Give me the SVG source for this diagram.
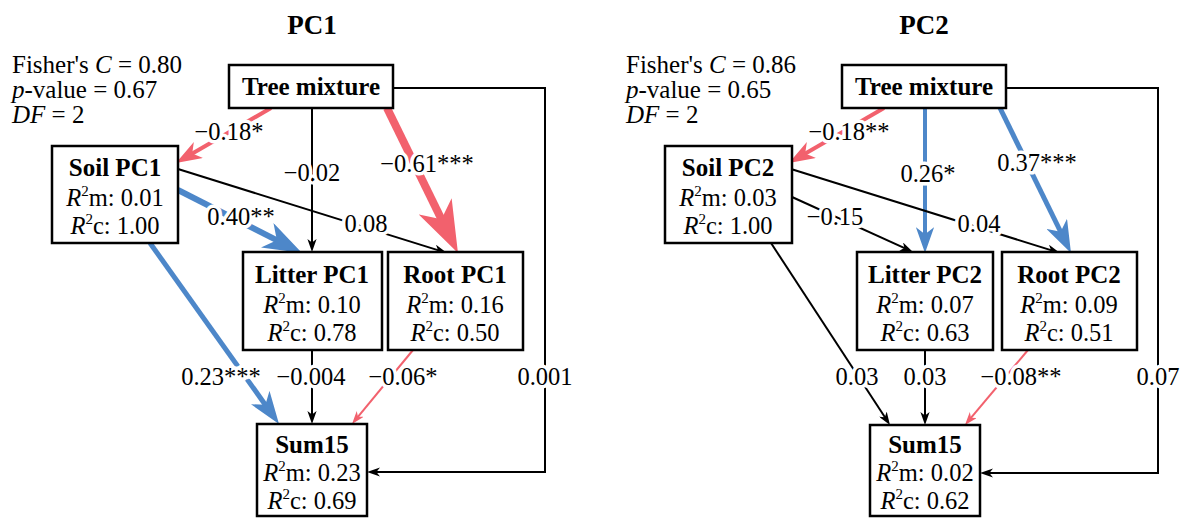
<svg xmlns="http://www.w3.org/2000/svg" width="1186" height="525" viewBox="0 0 1186 525" font-family="Liberation Serif, Tinos, DejaVu Serif, Noto Serif, serif">
<style>
text{font-family:"Liberation Serif",Tinos,"DejaVu Serif","Noto Serif",serif;fill:#000}
.title{font-size:27px;font-weight:bold;text-anchor:middle}
.stat{font-size:25px}
.box{fill:#fff;stroke:#000;stroke-width:2.5}
.nt{font-size:25px;font-weight:bold;text-anchor:middle}
.nr{font-size:24.5px;text-anchor:middle}
.lab{font-size:24.5px;text-anchor:middle;paint-order:stroke;stroke:#fff;stroke-width:7px;stroke-linejoin:round}
.k{fill:none;stroke:#000;stroke-width:2;marker-end:url(#ak)}
.r{fill:none;stroke:#f2616d;marker-end:url(#ar)}
.b{fill:none;stroke:#4d87c9;marker-end:url(#ab)}
</style>
<defs>
<marker id="ak" viewBox="0 -2.3 6.5 4.6" markerWidth="6.5" markerHeight="4.6" refX="2.5" refY="0" orient="auto"><path d="M6.5,0 L0,-2.3 L1.8,0 L0,2.3 Z" fill="#000"/></marker>
<marker id="ar" viewBox="0 -2.3 6.5 4.6" markerWidth="6.5" markerHeight="4.6" refX="2.5" refY="0" orient="auto"><path d="M6.5,0 L0,-2.3 L1.8,0 L0,2.3 Z" fill="#f2616d"/></marker>
<marker id="ab" viewBox="0 -2.3 6.5 4.6" markerWidth="6.5" markerHeight="4.6" refX="2.5" refY="0" orient="auto"><path d="M6.5,0 L0,-2.3 L1.8,0 L0,2.3 Z" fill="#4d87c9"/></marker>
</defs>
<rect width="1186" height="525" fill="#fff"/>

<text class="title" x="312" y="34">PC1</text>
<text class="title" x="924" y="34">PC2</text>
<g id="fit1" class="stat">
<text x="12" y="73">Fisher's <tspan font-style="italic">C</tspan> = 0.80</text>
<text x="12" y="98"><tspan font-style="italic">p</tspan>-value = 0.67</text>
<text x="12" y="123"><tspan font-style="italic">DF</tspan> = 2</text>
</g>
<g id="fit2" class="stat">
<text x="626" y="73">Fisher's <tspan font-style="italic">C</tspan> = 0.86</text>
<text x="626" y="98"><tspan font-style="italic">p</tspan>-value = 0.65</text>
<text x="626" y="123"><tspan font-style="italic">DF</tspan> = 2</text>
</g>

<g id="connectors">
<!-- PC1 -->
<line class="r" style="stroke-width:4" x1="271" y1="108" x2="189.8" y2="155"/>
<line class="k" x1="312" y1="108" x2="312" y2="244"/>
<line class="r" style="stroke-width:8" x1="387" y1="108" x2="443.9" y2="224.3"/>
<line class="b" style="stroke-width:6" x1="178" y1="190" x2="280.6" y2="242.1"/>
<line class="k" x1="178" y1="169" x2="439.4" y2="250.6"/>
<line class="b" style="stroke-width:5" x1="150" y1="243" x2="267.4" y2="407.7"/>
<line class="k" x1="312" y1="350" x2="312" y2="416"/>
<line class="r" style="stroke-width:2" x1="413" y1="350" x2="357.1" y2="417.8"/>
<path class="k" d="M393,88 H545 V472 H375"/>
<!-- PC2 -->
<line class="r" style="stroke-width:4" x1="884" y1="108" x2="802.8" y2="155"/>
<line class="b" style="stroke-width:4" x1="925" y1="108" x2="925" y2="237"/>
<line class="b" style="stroke-width:5" x1="1000" y1="108" x2="1062.2" y2="235"/>
<line class="k" x1="792" y1="197" x2="905.7" y2="248.7"/>
<line class="k" x1="791" y1="169" x2="1052.4" y2="250.6"/>
<line class="k" x1="771" y1="243" x2="885.6" y2="418.3"/>
<line class="k" x1="925" y1="350" x2="925" y2="417"/>
<line class="r" style="stroke-width:2" x1="1028" y1="350" x2="970.1" y2="418.9"/>
<path class="k" d="M1006,88 H1158 V473 H988"/>
<!-- labels -->
<text class="lab" x="229" y="140">−0.18*</text>
<text class="lab" x="312" y="181">−0.02</text>
<text class="lab" x="427" y="172">−0.61***</text>
<text class="lab" x="241" y="225">0.40**</text>
<text class="lab" x="366" y="232">0.08</text>
<text class="lab" x="221" y="385">0.23***</text>
<text class="lab" x="311" y="385">−0.004</text>
<text class="lab" x="403" y="385">−0.06*</text>
<text class="lab" x="545" y="385">0.001</text>
<text class="lab" x="849" y="140">−0.18**</text>
<text class="lab" x="928" y="182">0.26*</text>
<text class="lab" x="1037" y="171">0.37***</text>
<text class="lab" x="835" y="225">−0.15</text>
<text class="lab" x="979" y="232">0.04</text>
<text class="lab" x="857" y="385">0.03</text>
<text class="lab" x="925" y="385">0.03</text>
<text class="lab" x="1021" y="385">−0.08**</text>
<text class="lab" x="1158" y="385">0.07</text>
</g>

<!-- PC1 nodes -->
<g id="tree1"><rect class="box" x="229" y="65" width="164" height="43"/><text class="nt" x="311" y="95">Tree mixture</text></g>
<g id="soil1"><rect class="box" x="52" y="146" width="126" height="97"/><text class="nt" x="115" y="176">Soil PC1</text>
<text class="nr" x="115" y="206"><tspan font-style="italic">R</tspan><tspan font-size="15" dy="-10">2</tspan><tspan dy="10">m: 0.01</tspan></text>
<text class="nr" x="115" y="234"><tspan font-style="italic">R</tspan><tspan font-size="15" dy="-10">2</tspan><tspan dy="10">c: 1.00</tspan></text></g>
<g id="litter1"><rect class="box" x="243" y="252" width="139" height="98"/><text class="nt" x="312" y="283">Litter PC1</text>
<text class="nr" x="312" y="313"><tspan font-style="italic">R</tspan><tspan font-size="15" dy="-10">2</tspan><tspan dy="10">m: 0.10</tspan></text>
<text class="nr" x="312" y="341"><tspan font-style="italic">R</tspan><tspan font-size="15" dy="-10">2</tspan><tspan dy="10">c: 0.78</tspan></text></g>
<g id="root1"><rect class="box" x="388" y="252" width="135" height="98"/><text class="nt" x="455" y="283">Root PC1</text>
<text class="nr" x="455" y="313"><tspan font-style="italic">R</tspan><tspan font-size="15" dy="-10">2</tspan><tspan dy="10">m: 0.16</tspan></text>
<text class="nr" x="455" y="341"><tspan font-style="italic">R</tspan><tspan font-size="15" dy="-10">2</tspan><tspan dy="10">c: 0.50</tspan></text></g>
<g id="sum1"><rect class="box" x="257" y="424" width="110" height="92"/><text class="nt" x="312" y="453">Sum15</text>
<text class="nr" x="312" y="481"><tspan font-style="italic">R</tspan><tspan font-size="15" dy="-10">2</tspan><tspan dy="10">m: 0.23</tspan></text>
<text class="nr" x="312" y="509"><tspan font-style="italic">R</tspan><tspan font-size="15" dy="-10">2</tspan><tspan dy="10">c: 0.69</tspan></text></g>

<!-- PC2 nodes -->
<g id="tree2"><rect class="box" x="842" y="65" width="164" height="43"/><text class="nt" x="924" y="95">Tree mixture</text></g>
<g id="soil2"><rect class="box" x="665" y="146" width="127" height="97"/><text class="nt" x="728" y="176">Soil PC2</text>
<text class="nr" x="728" y="206"><tspan font-style="italic">R</tspan><tspan font-size="15" dy="-10">2</tspan><tspan dy="10">m: 0.03</tspan></text>
<text class="nr" x="728" y="234"><tspan font-style="italic">R</tspan><tspan font-size="15" dy="-10">2</tspan><tspan dy="10">c: 1.00</tspan></text></g>
<g id="litter2"><rect class="box" x="857" y="252" width="136" height="98"/><text class="nt" x="925" y="283">Litter PC2</text>
<text class="nr" x="925" y="313"><tspan font-style="italic">R</tspan><tspan font-size="15" dy="-10">2</tspan><tspan dy="10">m: 0.07</tspan></text>
<text class="nr" x="925" y="341"><tspan font-style="italic">R</tspan><tspan font-size="15" dy="-10">2</tspan><tspan dy="10">c: 0.63</tspan></text></g>
<g id="root2"><rect class="box" x="1002" y="252" width="135" height="98"/><text class="nt" x="1069" y="283">Root PC2</text>
<text class="nr" x="1069" y="313"><tspan font-style="italic">R</tspan><tspan font-size="15" dy="-10">2</tspan><tspan dy="10">m: 0.09</tspan></text>
<text class="nr" x="1069" y="341"><tspan font-style="italic">R</tspan><tspan font-size="15" dy="-10">2</tspan><tspan dy="10">c: 0.51</tspan></text></g>
<g id="sum2"><rect class="box" x="870" y="425" width="110" height="91"/><text class="nt" x="925" y="453">Sum15</text>
<text class="nr" x="925" y="481"><tspan font-style="italic">R</tspan><tspan font-size="15" dy="-10">2</tspan><tspan dy="10">m: 0.02</tspan></text>
<text class="nr" x="925" y="509"><tspan font-style="italic">R</tspan><tspan font-size="15" dy="-10">2</tspan><tspan dy="10">c: 0.62</tspan></text></g>
</svg>
